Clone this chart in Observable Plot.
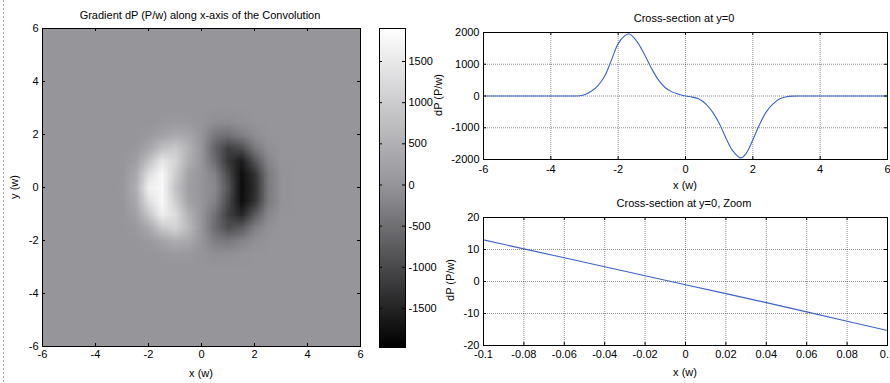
<!DOCTYPE html>
<html><head><meta charset="utf-8">
<script src="https://cdn.jsdelivr.net/npm/d3@7"></script>
<script src="https://cdn.jsdelivr.net/npm/@observablehq/plot@0.6"></script>
<style>
body{margin:0;background:#fff;}
#wrap{position:relative;width:890px;height:383px;overflow:hidden;font-family:"Liberation Sans",Arial,sans-serif;font-size:11px;color:#000;}
#wrap svg{position:absolute;overflow:visible;}
.lbl{position:absolute;white-space:nowrap;font-size:11px;line-height:11px;transform:translate(-50%,-50%);}
.rot{transform:translate(-50%,-50%) rotate(-90deg);}
#dots{position:absolute;left:3px;top:0;width:1px;height:383px;background:repeating-linear-gradient(to bottom,#a8a8a8 0 2px,transparent 2px 4px);}
</style></head><body><div id="wrap"><div id="dots"></div></div>
<script>
// ---------- data ----------
const heatTicks = [-6, -4, -2, 0, 2, 4, 6];
const colorbarTicks = [-1500, -1000, -500, 0, 500, 1000, 1500];
const colorbarDomain = [-1974, 1901];
// heat grid: columns x = -3.5..3.5 step 0.5, rows y = 3.5 (top) .. -3.5 (bottom); outside is 0
const heatX = [-3.5,-3,-2.5,-2,-1.5,-1,-0.5,0,0.5,1,1.5,2,2.5,3,3.5];
const heatY = [3.5,3,2.5,2,1.5,1,0.5,0,-0.5,-1,-1.5,-2,-2.5,-3,-3.5];
const heatRows = [
  [0,0,0,0,0,0,0,0,0,0,0,0,0,0,0],
  [0,0,0,0,0,2,4,0,-4,-2,0,0,0,0,0],
  [0,0,0,1,32,70,63,0,-77,-86,-40,-1,0,0,0],
  [0,0,2,70,219,374,300,0,-366,-458,-267,-86,-2,0,0],
  [0,0,54,292,774,927,537,0,-657,-1133,-946,-356,-66,0,0],
  [0,6,185,789,1467,1145,474,0,-524,-1265,-1621,-872,-205,-6,0],
  [0,25,353,1330,1793,997,248,0,-248,-997,-1793,-1330,-353,-25,0],
  [0,40,450,1650,1780,850,195,0,-170,-860,-1820,-1380,-360,-22,0],
  [0,25,353,1330,1793,997,248,0,-248,-997,-1793,-1330,-353,-25,0],
  [0,6,205,872,1621,1265,524,0,-474,-1145,-1467,-789,-185,-6,0],
  [0,0,66,356,946,1133,657,0,-537,-927,-774,-292,-54,0,0],
  [0,0,2,86,267,458,366,0,-300,-374,-219,-70,-2,0,0],
  [0,0,0,1,40,86,77,0,-63,-70,-32,-1,0,0,0],
  [0,0,0,0,0,2,4,0,-4,-2,0,0,0,0,0],
  [0,0,0,0,0,0,0,0,0,0,0,0,0,0,0]
];
// cross-section at y=0
const crossX = [-6,-5,-4,-3.4,-3.2,-3.0,-2.8,-2.6,-2.4,-2.2,-2.0,-1.8,-1.68,-1.6,-1.4,-1.2,-1.0,-0.8,-0.6,-0.4,-0.2,0,0.2,0.4,0.6,0.8,1.0,1.2,1.4,1.64,1.8,2.0,2.2,2.4,2.6,2.8,3.0,3.2,3.4,4,5,6];
const crossY = [0,0,0,0,2,40,150,330,630,1130,1650,1900,1960,1910,1650,1270,850,500,260,130,55,0,-35,-95,-250,-500,-860,-1320,-1720,-1950,-1810,-1380,-900,-500,-250,-90,-22,-3,0,0,0,0];
const crossXTicks = [-6,-4,-2,0,2,4,6];
const crossYTicks = [-2000,-1000,0,1000,2000];
// zoomed cross-section
const zoomX = [-0.1,-0.08,-0.06,-0.04,-0.02,0,0.02,0.04,0.06,0.08,0.1];
const zoomY = [13.0,10.2,7.4,4.6,1.8,-1.0,-3.8,-6.6,-9.5,-12.4,-15.3];
const zoomXTicks = [-0.1,-0.08,-0.06,-0.04,-0.02,0,0.02,0.04,0.06,0.08,0.1];
const zoomYTicks = [-20,-10,0,10,20];

// ---------- styles ----------
const font = {fontFamily: "'Liberation Sans', Arial, sans-serif", fontSize: "11px", color: "#000", background: "transparent", overflow: "visible"};
const midGray = "#95959a";
const colorSpec = {type: "linear", domain: [colorbarDomain[0], 0, colorbarDomain[1]], range: ["#000000", midGray, "#ffffff"], clamp: true};
const fmt = d => String(d);
const gridStyle = {stroke: "#000", strokeOpacity: 0.45, strokeDasharray: "1,1"};
const lineColor = "#3d63c8";

function inwardTicks(xt, yt, fw, fh, len) {
  return [
    Plot.tickX(xt, {x: d => d, insetTop: fh - len}),
    Plot.tickX(xt, {x: d => d, insetBottom: fh - len}),
    Plot.tickY(yt, {y: d => d, insetRight: fw - len}),
    Plot.tickY(yt, {y: d => d, insetLeft: fw - len})
  ];
}

const wrap = document.getElementById("wrap");
function place(svg, left, topPx) { svg.style.left = left + "px"; svg.style.top = topPx + "px"; wrap.appendChild(svg); }
function label(text, x, y, rot) {
  const d = document.createElement("div");
  d.className = "lbl" + (rot ? " rot" : "");
  d.textContent = text; d.style.left = x + "px"; d.style.top = y + "px";
  wrap.appendChild(d);
}

// ---------- heatmap ----------
const heatPlot = Plot.plot({
  width: 380, height: 383, marginLeft: 42, marginRight: 20, marginTop: 28, marginBottom: 37,
  style: font,
  x: {domain: [-6, 6]}, y: {domain: [-6, 6]},
  color: colorSpec,
  marks: [
    Plot.frame({fill: midGray}),
    Plot.raster(heatRows.flat(), {width: heatX.length, height: heatY.length, x1: -3.75, x2: 3.75, y1: 3.75, y2: -3.75}),
    Plot.frame({stroke: "#000"}),
    Plot.axisX(heatTicks, {tickSize: 0, tickPadding: 4, tickFormat: fmt, label: null}),
    Plot.axisY(heatTicks, {tickSize: 0, tickPadding: 4, tickFormat: fmt, label: null}),
    ...inwardTicks(heatTicks, heatTicks, 318, 318, 3)
  ]
});
place(heatPlot, 0, 0);

// ---------- colorbar ----------
const cbarPlot = Plot.plot({
  width: 60, height: 383, marginLeft: 9, marginRight: 25, marginTop: 28, marginBottom: 36,
  style: font,
  x: {domain: [0, 1], axis: null}, y: {domain: colorbarDomain},
  color: colorSpec,
  marks: [
    Plot.raster({fill: (x, y) => y, x1: 0, x2: 1, y1: colorbarDomain[0], y2: colorbarDomain[1]}),
    Plot.frame({stroke: "#000"}),
    Plot.axisY(colorbarTicks, {anchor: "right", tickSize: 0, tickPadding: 3, tickFormat: fmt, label: null}),
    Plot.tickY(colorbarTicks, {y: d => d, insetRight: 23}),
    Plot.tickY(colorbarTicks, {y: d => d, insetLeft: 23})
  ]
});
place(cbarPlot, 370, 0);

// ---------- cross-section ----------
const crossData = crossX.map((x, i) => ({x, y: crossY[i]}));
const crossPlot = Plot.plot({
  width: 460, height: 190, marginLeft: 53, marginRight: 3, marginTop: 32, marginBottom: 31,
  style: font,
  x: {domain: [-6, 6]}, y: {domain: [-2000, 2000]},
  marks: [
    Plot.ruleX(crossXTicks, gridStyle),
    Plot.ruleY(crossYTicks, gridStyle),
    Plot.line(crossData, {x: "x", y: "y", stroke: lineColor, strokeWidth: 1.1, curve: "catmull-rom"}),
    Plot.frame({stroke: "#000"}),
    Plot.axisX(crossXTicks, {tickSize: 0, tickPadding: 6, tickFormat: fmt, label: null}),
    Plot.axisY(crossYTicks, {tickSize: 0, tickPadding: 4, tickFormat: fmt, label: null}),
    ...inwardTicks(crossXTicks, crossYTicks, 404, 127, 3)
  ]
});
place(crossPlot, 430, 0);

// ---------- zoomed cross-section ----------
const zoomData = zoomX.map((x, i) => ({x, y: zoomY[i]}));
const zoomPlot = Plot.plot({
  width: 460, height: 193, marginLeft: 53, marginRight: 3, marginTop: 27, marginBottom: 38,
  style: font,
  x: {domain: [-0.1, 0.1]}, y: {domain: [-20, 20]},
  marks: [
    Plot.ruleX(zoomXTicks, gridStyle),
    Plot.ruleY(zoomYTicks, gridStyle),
    Plot.line(zoomData, {x: "x", y: "y", stroke: lineColor, strokeWidth: 1.1}),
    Plot.frame({stroke: "#000"}),
    Plot.axisX(zoomXTicks, {tickSize: 0, tickPadding: 5, tickFormat: fmt, label: null}),
    Plot.axisY(zoomYTicks, {tickSize: 0, tickPadding: 4, tickFormat: fmt, label: null}),
    ...inwardTicks(zoomXTicks, zoomYTicks, 404, 128, 3)
  ]
});
place(zoomPlot, 430, 190);

// ---------- titles & axis labels ----------
label("Gradient dP (P/w) along x-axis of the Convolution", 200, 15);
label("x (w)", 201, 373);
label("y (w)", 14, 187, true);
label("Cross-section at y=0", 684, 18);
label("x (w)", 685, 185);
label("dP (P/w)", 438, 95, true);
label("Cross-section at y=0, Zoom", 684, 203);
label("x (w)", 685, 372);
label("dP (P/w)", 450, 280, true);
</script>
</body></html>
